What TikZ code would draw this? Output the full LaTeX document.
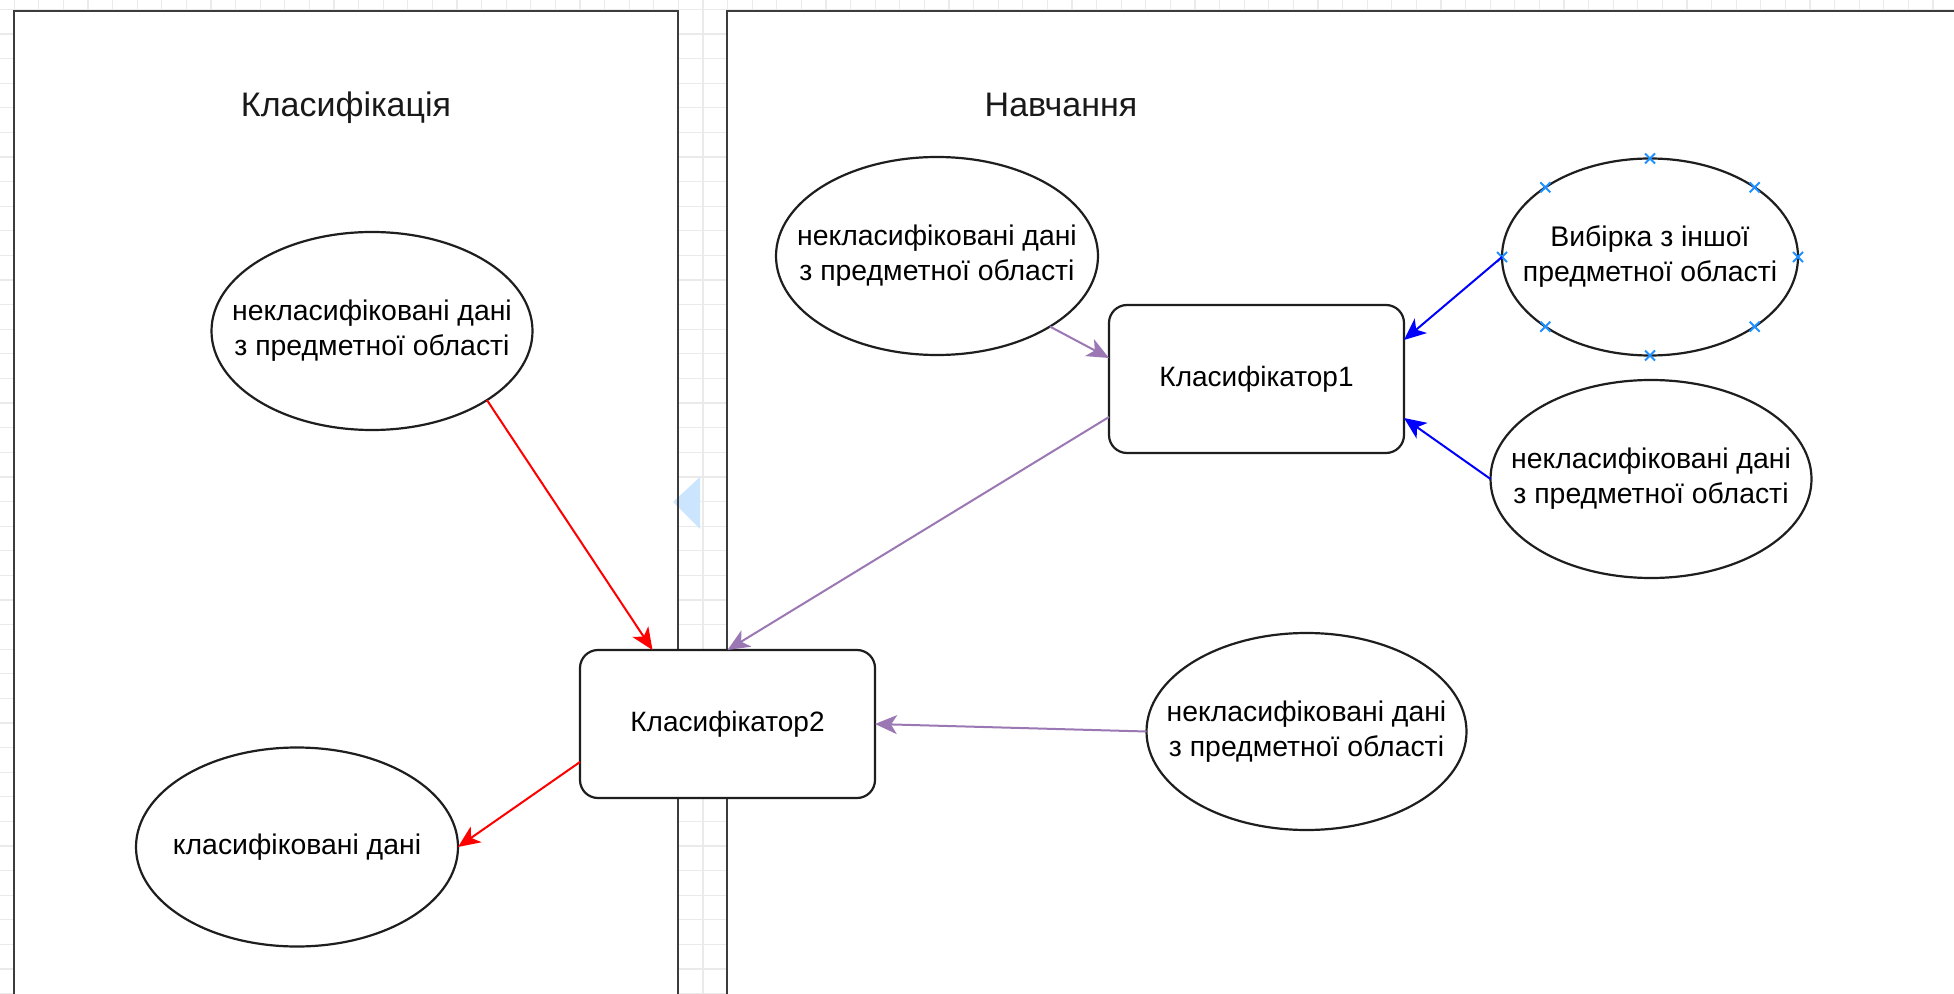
\documentclass[tikz,border=0pt]{standalone}
\usepackage{fontspec}
\setmainfont{Liberation Sans}
\usetikzlibrary{arrows.meta,calc,shapes.geometric}
\definecolor{gridc}{RGB}{234,234,234}
\definecolor{panelc}{RGB}{60,60,60}
\definecolor{purp}{RGB}{155,120,180}
\definecolor{hint}{RGB}{204,229,255}
\definecolor{xblue}{RGB}{30,144,255}
\definecolor{edge}{RGB}{30,30,30}
\begin{document}
\begin{tikzpicture}[x=0.5pt,y=-0.5pt,
  ell/.style={ellipse, draw=edge, line width=1.1pt, fill=white, inner sep=0pt, outer sep=0pt},
  etext/.style={align=center, inner sep=0pt, font=\fontsize{14.2pt}{17.5pt}\selectfont},
  boxnode/.style={rectangle, rounded corners=9pt, draw=edge, line width=1.1pt, fill=white,
    minimum width=147.5pt, minimum height=74pt, inner sep=0pt, outer sep=0pt,
    font=\fontsize{14pt}{17pt}\selectfont},
  title/.style={anchor=base, inner sep=0pt, font=\fontsize{17pt}{20pt}\selectfont, text=black!90},
  panel/.style={draw=panelc, line width=1.2pt},
  arr/.style={-{Stealth[length=11pt,width=9.5pt,inset=3pt]}, line width=1pt},
  xm/.style={draw=xblue, line width=1pt}
]
\useasboundingbox (0,0) rectangle (1954,994);
\clip (0,0) rectangle (1954,994);
% background grid
\foreach \k in {-29,...,51} \draw[gridc, line width=0.6pt] ({703+24.6*\k},0) -- ({703+24.6*\k},994);
\foreach \k in {-19,...,23} \draw[gridc, line width=0.6pt] (0,{452.3+24.6*\k}) -- (1954,{452.3+24.6*\k});
% panels
\fill[white] (14,11) rectangle (678,1010);
\fill[white] (727,11) rectangle (1980,1010);
\fill[hint] (673,502) -- (700,477) -- (700,529) -- cycle;
\draw[panel] (14,1010) -- (14,11) -- (678,11) -- (678,1010);
\draw[panel] (1980,11) -- (727,11) -- (727,1010);
% titles
\node[title] (t1) at (346,117) {Класифікація};
\node[title] (t2) at (1061,117) {Навчання};
% nodes
\node[ell, minimum width=160.5pt, minimum height=99pt] (l1) at (372,331) {};
\node[etext] (l1t) at (l1.center) {некласифіковані дані\\з предметної області};
\node[ell, minimum width=161pt, minimum height=99.5pt] (cl) at (297,847) {};
\node[etext] (clt) at (cl.center) {класифіковані дані};
\node[ell, minimum width=161pt, minimum height=99pt] (r1) at (937,256) {};
\node[etext] (r1t) at (r1.center) {некласифіковані дані\\з предметної області};
\node[ell, minimum width=148pt, minimum height=98.5pt] (v) at (1650,257) {};
\node[etext] (vt) at (v.center) {Вибірка з іншої\\предметної області};
\node[ell, minimum width=160.5pt, minimum height=99pt] (r3) at (1651,479) {};
\node[etext] (r3t) at (r3.center) {некласифіковані дані\\з предметної області};
\node[ell, minimum width=160pt, minimum height=98.5pt] (r4) at (1306.5,731.5) {};
\node[etext] (r4t) at (r4.center) {некласифіковані дані\\з предметної області};
\node[boxnode] (box1) at (1256.5,379) {Класифікатор1};
\node[boxnode] (box2) at (727.5,724) {Класифікатор2};
% connection point markers
\foreach \a in {0,45,...,315}
  \draw[xm] ($(v.center)+({148*cos(\a)},{98.5*sin(\a)})$) +(-5,-5) -- +(5,5) +(-5,5) -- +(5,-5);
% connectors
\draw[arr, red] (l1.-31) -- ($(box2.north)+(-75,0)$);
\draw[arr, red] ($(box2.west)+(0,38)$) -- (cl.east);
\draw[arr, purp] (r1.-32) -- ($(box1.west)+(0,-21)$);
\draw[arr, purp] ($(box1.west)+(0,38)$) -- (box2.north);
\draw[arr, purp] (r4.west) -- (box2.east);
\draw[arr, blue] (v.west) -- ($(box1.east)+(0,-39)$);
\draw[arr, blue] (r3.west) -- ($(box1.east)+(0,39)$);
\end{tikzpicture}
\end{document}
